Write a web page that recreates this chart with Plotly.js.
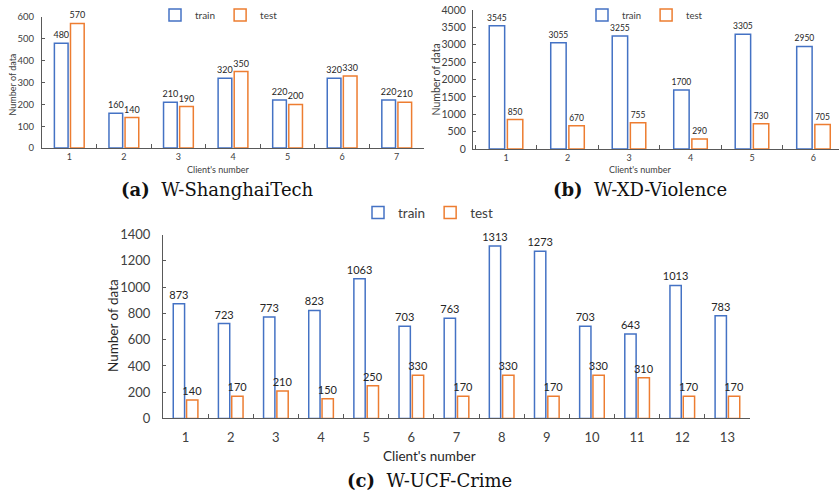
<!DOCTYPE html>
<html>
<head>
<meta charset="utf-8">
<script src="https://cdn.plot.ly/plotly-3.0.1.min.js"></script>
<style>html,body{margin:0;padding:0;background:#fff;}#chart{width:839px;height:498px;}</style>
</head>
<body>
<div id="chart"></div>
<script>
// ---- data ----
const clientsA = ["1","2","3","4","5","6","7"];
const trainA = [480,160,210,320,220,320,220];
const testA  = [570,140,190,350,200,330,210];

const clientsB = ["1","2","3","4","5","6"];
const trainB = [3545,3055,3255,1700,3305,2950];
const testB  = [850,670,755,290,730,705];

const clientsC = ["1","2","3","4","5","6","7","8","9","10","11","12","13"];
const trainC = [873,723,773,823,1063,703,763,1313,1273,703,643,1013,783];
const testC  = [140,170,210,150,250,330,170,330,170,330,310,170,170];

const seriesNames = ["train","test"];
const captions = ["W-ShanghaiTech","W-XD-Violence","W-UCF-Crime"];
const yTitle = "Number of data";
const xTitle = "Client's number";

// ---- style ----
const W = 839, H = 498;
const BLUE = "#4472C4", ORANGE = "#ED7D31";
const FONT = "Lato, 'Open Sans', sans-serif";
const SERIF = "'DejaVu Serif', 'Liberation Serif', serif";
const px = v => v / W;
const py = v => 1 - v / H;

function bar(x, y, name, color, xa, ya, leg, size) {
  return {
    type: "bar", x: x, y: y, name: name, xaxis: xa, yaxis: ya, legend: leg,
    showlegend: true,
    marker: {color: "rgba(255,255,255,1)", line: {color: color, width: 1.5}},
    text: y.map(String), textposition: "outside", cliponaxis: false,
    constraintext: "none",
    textfont: {family: FONT, size: size, color: "#262626"},
    hoverinfo: "x+y"
  };
}

const data = [
  bar(clientsA, trainA, seriesNames[0], BLUE, "x", "y", "legend", 9),
  bar(clientsA, testA, seriesNames[1], ORANGE, "x", "y", "legend", 9),
  bar(clientsB, trainB, seriesNames[0], BLUE, "x2", "y2", "legend2", 8.5),
  bar(clientsB, testB, seriesNames[1], ORANGE, "x2", "y2", "legend2", 8.5),
  bar(clientsC, trainC, seriesNames[0], BLUE, "x3", "y3", "legend3", 11),
  bar(clientsC, testC, seriesNames[1], ORANGE, "x3", "y3", "legend3", 11)
];

function xax(domain, range, anchor, size, standoff) {
  return {
    domain: domain, range: range, anchor: anchor, type: "category",
    showline: true, linecolor: "#595959", linewidth: 1,
    ticks: "inside", tickson: "boundaries", ticklen: 4, tickcolor: "#595959",
    showgrid: false, zeroline: false, fixedrange: true,
    tickfont: {family: FONT, size: size, color: "#404040"},
    ticklabelstandoff: standoff
  };
}
function yax(domain, range, dtick, anchor, size, standoff) {
  return {
    domain: domain, range: range, dtick: dtick, anchor: anchor,
    showline: true, linecolor: "#595959", linewidth: 1,
    ticks: "inside", ticklen: 3, tickcolor: "#595959",
    showgrid: false, zeroline: false, fixedrange: true,
    tickfont: {family: FONT, size: size, color: "#404040"},
    ticklabelstandoff: standoff
  };
}

function legend(cx, cy, size) {
  return {
    orientation: "h", x: px(cx), xanchor: "center", y: py(cy), yanchor: "middle",
    font: {family: FONT, size: size, color: "#404040"},
    bgcolor: "rgba(0,0,0,0)", itemwidth: 30, traceorder: "normal"
  };
}

function ann(text, x, y, size, family, angle, color) {
  return {
    text: text, x: px(x), y: py(y), xref: "paper", yref: "paper",
    xanchor: "center", yanchor: "middle", showarrow: false, textangle: angle || 0,
    font: {family: family, size: size, color: color || "#262626"}
  };
}

const layout = {
  width: W, height: H,
  margin: {l: 0, r: 0, t: 0, b: 0, pad: 0},
  paper_bgcolor: "#fff", plot_bgcolor: "#fff",
  barmode: "group", bargap: 0.41, bargroupgap: 0.15,
  xaxis: xax([px(42), px(424)], [-0.5, 6.5], "y", 9, 0),
  yaxis: yax([py(146), py(14)], [0, 600], 100, "x", 9.5, 5),
  xaxis2: xax([px(473), 1], [-0.537, 5.415], "y2", 9, 0),
  yaxis2: yax([py(147), py(7)], [0, 4000], 500, "x2", 10.5, 4),
  xaxis3: xax([px(163), px(750)], [-0.5, 12.5], "y3", 13, 7),
  yaxis3: yax([py(418), py(233)], [0, 1400], 200, "x3", 13, 9),
  legend: legend(219, 12, 10),
  legend2: legend(645, 12, 9.5),
  legend3: legend(428, 211, 13.5),
  annotations: [
    ann(yTitle, 13, 82, 9, FONT, -90, "#404040"),
    ann(xTitle, 218, 168, 9, FONT, 0, "#404040"),
    ann(yTitle, 436, 77, 10.5, FONT, -90, "#404040"),
    ann(xTitle, 640, 168, 9, FONT, 0, "#404040"),
    ann(yTitle, 113, 325, 13.5, FONT, -90, "#262626"),
    ann(xTitle, 429, 456, 13.5, FONT, 0, "#262626"),
    ann("<b>(a)</b>  " + captions[0], 217, 188, 18, SERIF, 0, "#111"),
    ann("<b>(b)</b>  " + captions[1], 640, 188, 18, SERIF, 0, "#111"),
    ann("<b>(c)</b>  " + captions[2], 429, 480, 18, SERIF, 0, "#111")
  ]
};

Plotly.newPlot("chart", data, layout, {displayModeBar: false, staticPlot: true});
</script>
</body>
</html>
